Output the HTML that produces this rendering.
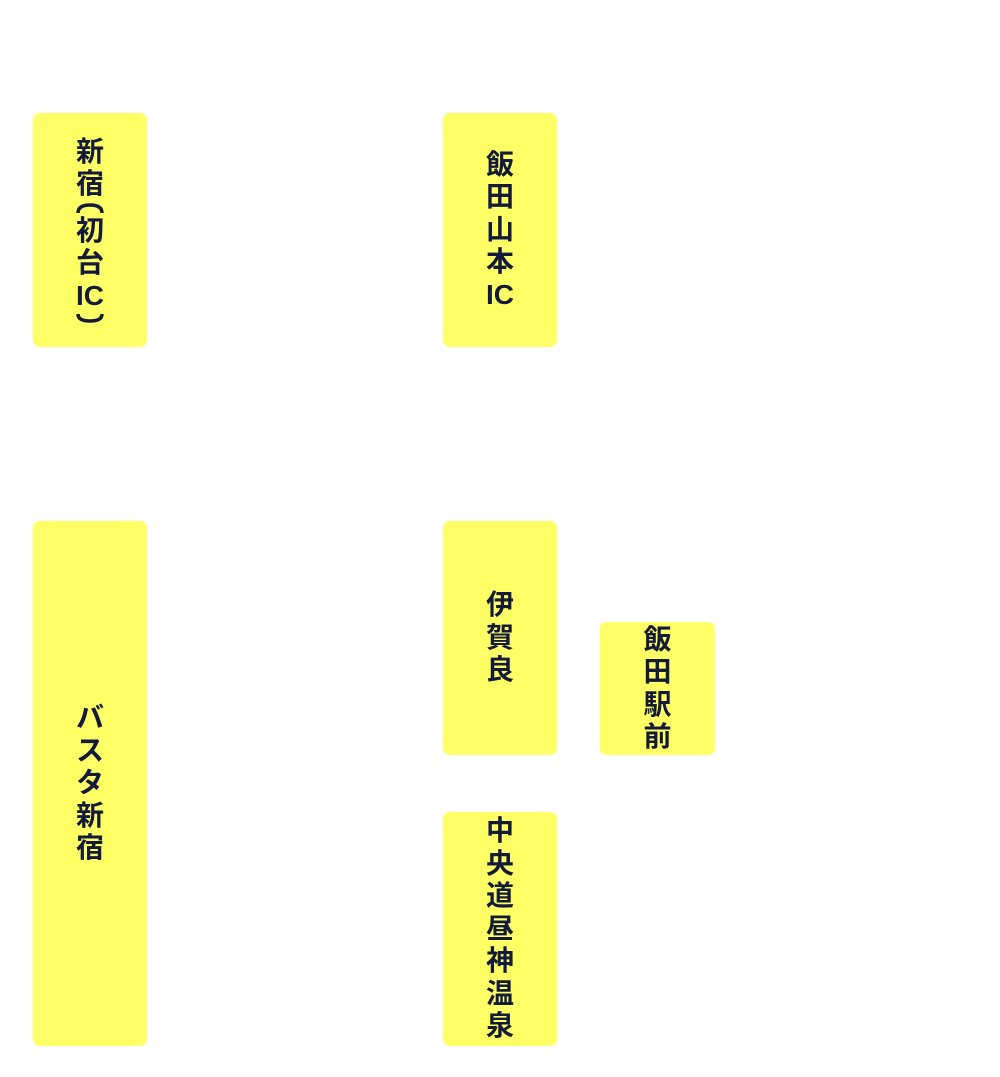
<!DOCTYPE html>
<html><head><meta charset="utf-8"><style>
body{margin:0;width:1000px;height:1077px;background:#fff;position:relative;overflow:hidden}
.b{position:absolute;background:#ffff66;border-radius:7px;display:flex;flex-direction:column;align-items:center;justify-content:center;color:#141b3a;font:bold 28px/32.5px "Liberation Sans","Noto Sans CJK JP",sans-serif;text-align:center}
.b div{height:32.5px}
.b svg{display:block}
</style></head><body>
<div class="b" style="left:33px;top:113px;width:114px;height:234px"><div>新</div><div>宿</div><svg width="30" height="14" viewBox="0 0 30 14"><path d="M3 12 Q3 4 15 4 Q27 4 27 12" fill="none" stroke="#141b3a" stroke-width="3.5"/></svg><div>初</div><div>台</div><div>IC</div><svg width="30" height="12" viewBox="0 0 30 12"><path d="M3 2 Q3 9 15 9 Q27 9 27 2" fill="none" stroke="#141b3a" stroke-width="3.5"/></svg></div>
<div class="b" style="left:443px;top:113px;width:114px;height:234px"><div>飯</div><div>田</div><div>山</div><div>本</div><div>IC</div></div>
<div class="b" style="left:33px;top:521px;width:114px;height:525px"><div>バ</div><div>ス</div><div>タ</div><div>新</div><div>宿</div></div>
<div class="b" style="left:443px;top:521px;width:114px;height:234px"><div>伊</div><div>賀</div><div>良</div></div>
<div class="b" style="left:600px;top:622px;width:115px;height:133px"><div>飯</div><div>田</div><div>駅</div><div>前</div></div>
<div class="b" style="left:443px;top:812px;width:114px;height:234px"><div>中</div><div>央</div><div>道</div><div>昼</div><div>神</div><div>温</div><div>泉</div></div>
</body></html>
